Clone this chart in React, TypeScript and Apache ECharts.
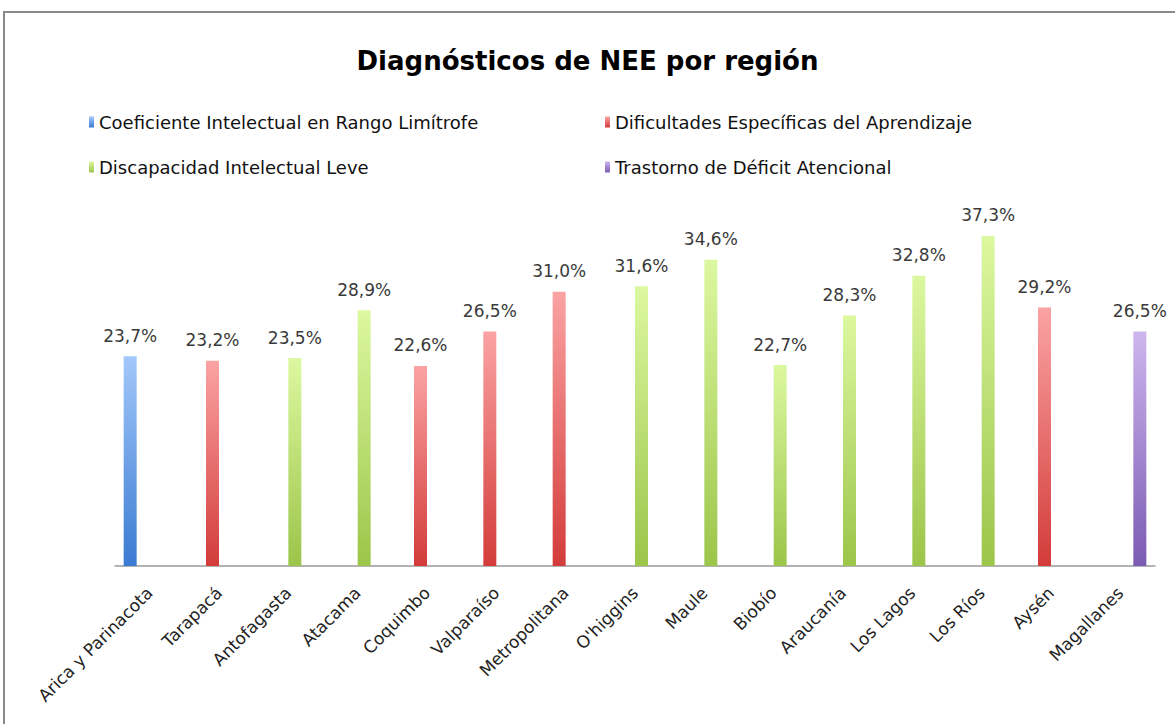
import React, { useEffect, useRef } from "react";
import * as echarts from "echarts";

const titleText = "Diagnósticos de NEE por región";
const seriesNames = [
  "Coeficiente Intelectual en Rango Limítrofe",
  "Dificultades Específicas del Aprendizaje",
  "Discapacidad Intelectual Leve",
  "Trastorno de Déficit Atencional",
];
const regions = [
  "Arica y Parinacota",
  "Tarapacá",
  "Antofagasta",
  "Atacama",
  "Coquimbo",
  "Valparaíso",
  "Metropolitana",
  "O'higgins",
  "Maule",
  "Biobío",
  "Araucanía",
  "Los Lagos",
  "Los Ríos",
  "Aysén",
  "Magallanes",
];
const values = [23.7, 23.2, 23.5, 28.9, 22.6, 26.5, 31.0, 31.6, 34.6, 22.7, 28.3, 32.8, 37.3, 29.2, 26.5];
// index into seriesNames for each region
const diagnosis = [0, 1, 2, 2, 1, 1, 1, 2, 2, 2, 2, 2, 2, 1, 3];

const gradients = [
  ["#a3c8fa", "#3b7bd2"],
  ["#fba3a3", "#d23c3a"],
  ["#dcf8a0", "#9cc54a"],
  ["#cdb6ee", "#7b5bb3"],
];

const FONT = "DejaVu Sans";

export default function App() {
  const ref = useRef<HTMLDivElement>(null);
  useEffect(() => {
    document.body.style.margin = "0";
    const chart = echarts.init(ref.current!, null, { renderer: "svg" });
    const series = seriesNames.map((name, si) => ({
      name,
      type: "bar",
      barWidth: 13,
      barGap: "0%",
      data: values.map((v, i) => (diagnosis[i] === si ? v : null)),
      itemStyle: {
        color: new echarts.graphic.LinearGradient(0, 0, 0, 1, [
          { offset: 0, color: gradients[si][0] },
          { offset: 1, color: gradients[si][1] },
        ]),
      },
      label: {
        show: true,
        position: "top",
        distance: 12,
        fontFamily: FONT,
        fontSize: 17,
        color: "#3a3a3a",
        formatter: (p: any) => p.value.toFixed(1).replace(".", ",") + "%",
      },
    }));
    const legendText = { fontFamily: FONT, fontSize: 18, color: "#111" };
    chart.setOption({
      animation: false,
      backgroundColor: "#ffffff",
      title: {
        text: titleText,
        left: "center",
        top: 43,
        textStyle: { fontFamily: FONT, fontSize: 26, fontWeight: "bold", color: "#000" },
      },
      legend: [
        {
          data: [seriesNames[0], seriesNames[2]],
          orient: "vertical",
          left: 84,
          top: 108,
          itemWidth: 5,
          itemHeight: 11,
          itemGap: 27,
          icon: "rect",
          textStyle: legendText,
        },
        {
          data: [seriesNames[1], seriesNames[3]],
          orient: "vertical",
          left: 600,
          top: 108,
          itemWidth: 5,
          itemHeight: 11,
          itemGap: 27,
          icon: "rect",
          textStyle: legendText,
        },
      ],
      grid: { left: 115, right: 20, top: 212, bottom: 158 },
      xAxis: {
        type: "category",
        data: regions,
        axisLine: { lineStyle: { color: "#9a9a9a", width: 1.5 } },
        axisTick: { show: false },
        axisLabel: {
          rotate: 45,
          interval: 0,
          margin: 24,
          fontFamily: FONT,
          fontSize: 17,
          color: "#222",
        },
      },
      yAxis: { type: "value", min: 0, max: 40, show: false },
      graphic: [
        {
          type: "rect",
          shape: { x: 4, y: 12, width: 1200, height: 740 },
          style: { fill: "none", stroke: "#8a8a8a", lineWidth: 2 },
          silent: true,
        },
      ],
      series,
    });
    return () => chart.dispose();
  }, []);
  return <div ref={ref} style={{ width: 1175, height: 724 }} />;
}
